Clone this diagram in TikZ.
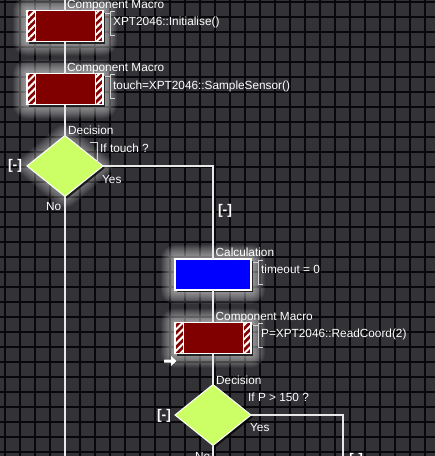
\documentclass[tikz,border=0pt]{standalone}
\usepackage{fontspec}
\setmainfont{Liberation Sans}
\usetikzlibrary{shapes.geometric,patterns.meta,calc,shadows}
\definecolor{bgc}{RGB}{50,50,55}
\definecolor{gridc}{RGB}{8,8,10}
\definecolor{cmred}{RGB}{128,0,0}
\definecolor{calcblue}{RGB}{0,0,255}
\definecolor{decgreen}{RGB}{204,255,102}
\definecolor{linec}{RGB}{232,232,232}
\definecolor{brc}{RGB}{210,210,210}
\pgfdeclarelayer{bg}
\pgfdeclarelayer{glow}
\pgfsetlayers{bg,glow,main}
\tikzset{
  flowline/.style={draw=linec, line width=1.3pt},
  shadowed/.style={drop shadow={shadow xshift=2pt, shadow yshift=-2pt, fill=black, opacity=0.75}},
  cmbox/.style={shadowed, draw=white, line width=1.2pt, fill=cmred, minimum width=76pt, minimum height=31pt,
    inner sep=0pt, outer sep=0pt,
    path picture={
      \fill[pattern={Lines[angle=45,distance=5pt,line width=2pt]}, pattern color=white]
        (path picture bounding box.north west) rectangle ([xshift=8pt]path picture bounding box.south west);
      \fill[pattern={Lines[angle=45,distance=5pt,line width=2pt]}, pattern color=white]
        ([xshift=-8pt]path picture bounding box.north east) rectangle (path picture bounding box.south east);
      \draw[white, line width=1pt] ([xshift=8pt]path picture bounding box.north west) -- ([xshift=8pt]path picture bounding box.south west);
      \draw[white, line width=1pt] ([xshift=-8pt]path picture bounding box.north east) -- ([xshift=-8pt]path picture bounding box.south east);
    }},
  calcbox/.style={shadowed, draw=white, line width=1.2pt, fill=calcblue, minimum width=76pt, minimum height=31pt,
    inner sep=0pt, outer sep=0pt},
  decbox/.style={shadowed, diamond, draw=white, line width=1pt, fill=decgreen, minimum width=76pt, minimum height=61pt,
    inner sep=0pt, outer sep=0pt},
  lbl/.style={text=white, font=\fontsize{11.8}{14}\selectfont, inner sep=0pt, anchor=base west},
  fold/.style={text=white, font=\bfseries\fontsize{14}{15}\selectfont, inner sep=0pt},
  brk/.style={draw=brc, line width=0.9pt},
}
\begin{document}
\begin{tikzpicture}[x=1pt, y=-1pt]
\useasboundingbox (0,0) rectangle (435,456);
\begin{pgfonlayer}{bg}
  \fill[bgc] (0,0) rectangle (435,456);
  \foreach \i in {0,...,28} \draw[gridc, line width=1.2pt] (5+15*\i,0) -- (5+15*\i,456);
  \foreach \j in {0,...,30} \draw[gridc, line width=1.2pt] (0,2+15*\j) -- (435,2+15*\j);
\end{pgfonlayer}

% nodes
\node[cmbox] (m1) at (65,26) {};
\node[cmbox] (m2) at (65,89) {};
\node[decbox] (d1) at (65,166) {};
\node[calcbox] (c1) at (213,274.5) {};
\node[cmbox] (m3) at (213,338) {};
\node[decbox] (d2) at (213,415) {};

% glow
\begin{pgfonlayer}{glow}
  \foreach \n in {m1,m2,c1,m3}{
    \foreach \r in {1,...,14}{
      \fill[white, opacity=0.05, rounded corners=\r pt]
        ($(\n.north west)+(-\r,-\r)$) rectangle ($(\n.south east)+(\r,\r)$);
    }
  }
  \foreach \r in {1,...,12}{
    \fill[white, opacity=0.04, rounded corners=\r pt]
      ($(d1.north)+(0,-1.3*\r)$) -- ($(d1.east)+(1.3*\r,0)$) -- ($(d1.south)+(0,1.3*\r)$) -- ($(d1.west)+(-1.3*\r,0)$) -- cycle;
  }
\end{pgfonlayer}

% connectors
\coordinate (top0) at (65,0);
\coordinate (bot1) at (65,456);
\coordinate (cor1) at (213,166);
\coordinate (bot2) at (213,456);
\coordinate (cor2) at (343,415);
\coordinate (bot3) at (343,456);
\draw[flowline] (top0) -- (m1.north);
\draw[flowline] (m1.south) -- (m2.north);
\draw[flowline] (m2.south) -- (d1.north);
\draw[flowline] (d1.south) -- (bot1);
\draw[flowline] (d1.east) -- (cor1) -- (c1.north);
\draw[flowline] (c1.south) -- (m3.north);
\draw[flowline] (m3.south) -- (d2.north);
\draw[flowline] (d2.south) -- (bot2);
\draw[flowline] (d2.east) -- (cor2) -- (bot3);

% comment brackets
\foreach \n in {m1,m2,c1,m3}{
  \draw[brk] ($(\n.north east)+(2,3)$) -- ($(\n.north east)+(7.5,3)$);
  \draw[brk] ($(\n.north east)+(11.5,1)$) -- ($(\n.north east)+(7.5,1)$) -- ($(\n.north east)+(7.5,25)$) -- ($(\n.north east)+(11.5,25)$);
}
\draw[brk] ($(d1.north)+(25,7)$) -- ($(d1.north)+(32,7)$) -- ($(d1.north)+(32,26)$);

% labels
\node[lbl] (l1) at (67,8) {Component Macro};
\node[lbl] (t1) at (113,25) {XPT2046::Initialise()};
\node[lbl] (l2) at (67,71.5) {Component Macro};
\node[lbl] (t2) at (113,89.5) {touch=XPT2046::SampleSensor()};
\node[lbl] (l3) at (68,134.5) {Decision};
\node[lbl] (t3) at (100,152.5) {If touch ?};
\node[fold] (f1) at (15,166) {[-]};
\node[lbl] (y1) at (102,183) {Yes};
\node[lbl] (n1) at (46,210) {No};
\node[fold] (f2) at (225,211) {[-]};
\node[lbl] (l4) at (215.5,256) {Calculation};
\node[lbl] (t4) at (261,273.5) {timeout = 0};
\node[lbl] (l5) at (215.5,320) {Component Macro};
\node[lbl] (t5) at (261,337.5) {P=XPT2046::ReadCoord(2)};
\node[lbl] (l6) at (216,384) {Decision};
\node[lbl] (t6) at (248,401.5) {If P > 150 ?};
\node[fold] (f3) at (164,416) {[-]};
\node[lbl] (y2) at (250,431.5) {Yes};
\node[lbl] (n2) at (195,460.5) {No};
\node[fold] (f4) at (356,460) {[-]};

% current-step marker
\fill[white] (164,359.5) -- (171,359.5) -- (171,356) -- (176.5,361) -- (171,366) -- (171,362.5) -- (164,362.5) -- cycle;
\end{tikzpicture}
\end{document}
